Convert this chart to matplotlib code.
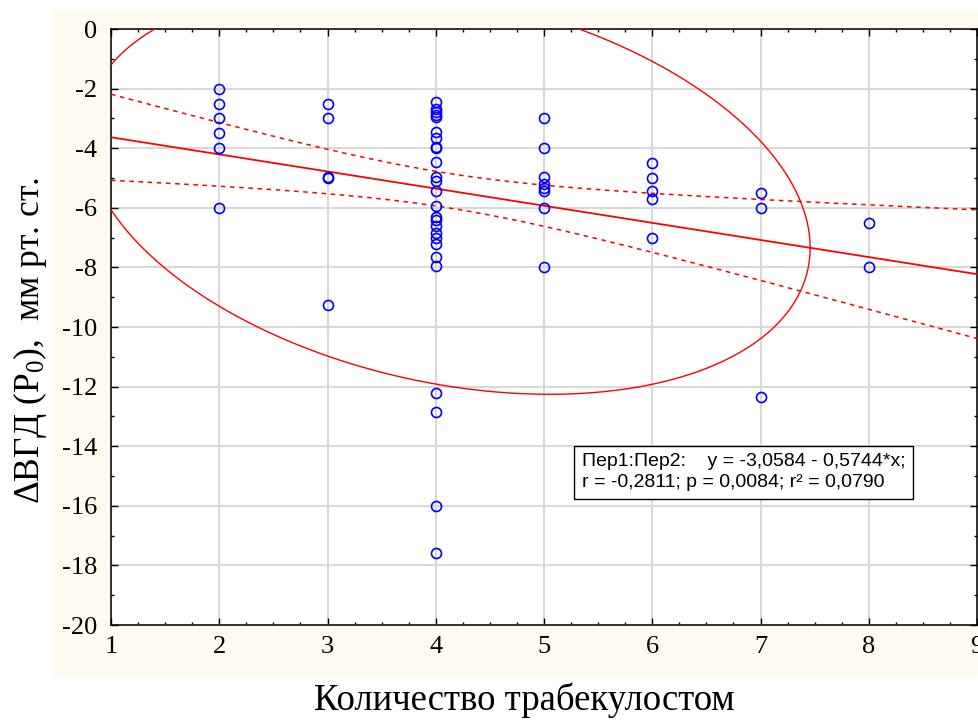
import numpy as np
import matplotlib
matplotlib.use("Agg")
import matplotlib.pyplot as plt
from matplotlib.patches import Rectangle
from matplotlib.ticker import MultipleLocator

# number of trabeculostomies
trab_count = [2, 2, 2, 2, 2, 2,
              3, 3, 3, 3, 3,
              4, 4, 4, 4, 4, 4, 4, 4, 4, 4, 4, 4, 4, 4, 4, 4, 4, 4, 4, 4, 4, 4, 4, 4, 4, 4,
              5, 5, 5, 5, 5, 5, 5, 5,
              6, 6, 6, 6, 6,
              7, 7, 7,
              8, 8]
# change of IOP (P0), mm Hg
delta_iop = [-2.0, -2.5, -3.0, -3.5, -4.0, -6.0,
             -2.5, -3.0, -4.95, -5.0, -9.25,
             -2.45, -2.7, -2.8, -2.9, -2.95, -3.45, -3.65, -3.95, -4.0, -4.45, -4.95, -5.1,
             -5.45, -5.95, -6.3, -6.4, -6.6, -6.85, -7.0, -7.2, -7.65, -7.95,
             -12.2, -12.85, -16.0, -17.6,
             -3.0, -4.0, -4.95, -5.2, -5.35, -5.45, -6.0, -8.0,
             -4.5, -5.0, -5.45, -5.7, -7.0,
             -5.5, -6.0, -12.35,
             -6.5, -8.0]

# regression summary shown on the chart
intercept = -3.0584
slope = -0.5744
r_value = -0.2811
p_value = 0.0084
r_squared = 0.0790
n_obs = 86
# sample statistics (read from the 95% ellipse)
mean_x = 4.11
sd_x = 1.368
sd_y = 2.794
t_crit = 1.989
k_ellipse = np.sqrt(5.991)

mean_y = intercept + slope * mean_x

plt.rcParams['mathtext.fontset'] = 'custom'
plt.rcParams['mathtext.rm'] = 'Liberation Serif'
plt.rcParams['mathtext.it'] = 'Liberation Serif:italic'
plt.rcParams['axes.unicode_minus'] = False

fig = plt.figure(figsize=(9.79, 7.27), dpi=100)
fig.patches.append(Rectangle((0.054, 0.069), 0.946, 0.917, transform=fig.transFigure,
                             facecolor='#FFFAF0', edgecolor='none', zorder=-10))
ax = fig.add_axes([0.1134, 0.1403, 0.8846, 0.8198])
ax.set_zorder(1)
ax.set_facecolor('white')

# regression line and 95% confidence band
xs = np.linspace(1, 9, 300)
yhat = intercept + slope * xs
s_res = sd_y * np.sqrt(1 - r_value ** 2) * np.sqrt((n_obs - 1) / (n_obs - 2))
sxx = (n_obs - 1) * sd_x ** 2
half = t_crit * s_res * np.sqrt(1.0 / n_obs + (xs - mean_x) ** 2 / sxx)
ax.plot(xs, yhat, color='red', lw=1.3, zorder=3)
ax.plot(xs, yhat + half, color='red', lw=1.1, ls=(0, (3, 3)), zorder=3)
ax.plot(xs, yhat - half, color='red', lw=1.1, ls=(0, (3, 3)), zorder=3)

# 95% ellipse
t = np.linspace(0, 2 * np.pi, 400)
ex = mean_x + k_ellipse * sd_x * np.cos(t)
ey = mean_y + k_ellipse * sd_y * (r_value * np.cos(t) + np.sqrt(1 - r_value ** 2) * np.sin(t))
ax.plot(ex, ey, color='red', lw=1.0, zorder=3)

ax.plot(trab_count, delta_iop, 'o', ms=7.2, mfc='none', mec='#0000FF', mew=1.2, zorder=4)

ax.set_xlim(1, 9)
ax.set_ylim(-20, 0)
ax.xaxis.set_major_locator(MultipleLocator(1))
ax.xaxis.set_minor_locator(MultipleLocator(0.25))
ax.yaxis.set_major_locator(MultipleLocator(2))
ax.yaxis.set_minor_locator(MultipleLocator(1))
ax.grid(True, which='major', color='#D9D9D9', lw=1.5, zorder=0)
ax.set_axisbelow(True)
ax.tick_params(which='both', direction='in', top=True, right=True, width=1)
ax.tick_params(which='major', length=5, labelsize=19, pad=8)
ax.tick_params(which='minor', length=2.5)
ax.tick_params(axis='y', pad=10)
for lab in ax.get_xticklabels() + ax.get_yticklabels():
    lab.set_family('Liberation Serif')
for sp in ax.spines.values():
    sp.set_linewidth(1.1)

ax.set_xlabel('Количество трабекулостом', family='Liberation Serif', fontsize=26.5,
              va='center')
ax.xaxis.set_label_coords(0.477, -0.126)
ax.set_ylabel('ΔВГД (P$_0$),  мм рт. ст.', family='Liberation Serif', fontsize=25.5,
              va='center')
ax.yaxis.set_label_coords(-0.0935, 0.477)

eq = (f'Пер1:Пер2:    y = {intercept:.4f} - {abs(slope):.4f}*x;\n'
      f'r = {r_value:.4f}; p = {p_value:.4f}; r² = {r_squared:.4f}').replace('.', ',')
ax.text(0.544, 0.256, eq, transform=ax.transAxes, family='Liberation Sans', fontsize=14,
        va='center', ha='left', linespacing=1.3, zorder=5,
        bbox=dict(boxstyle='square,pad=0.4', facecolor='white', edgecolor='black', lw=1))

fig.savefig('out.png', dpi=100)
